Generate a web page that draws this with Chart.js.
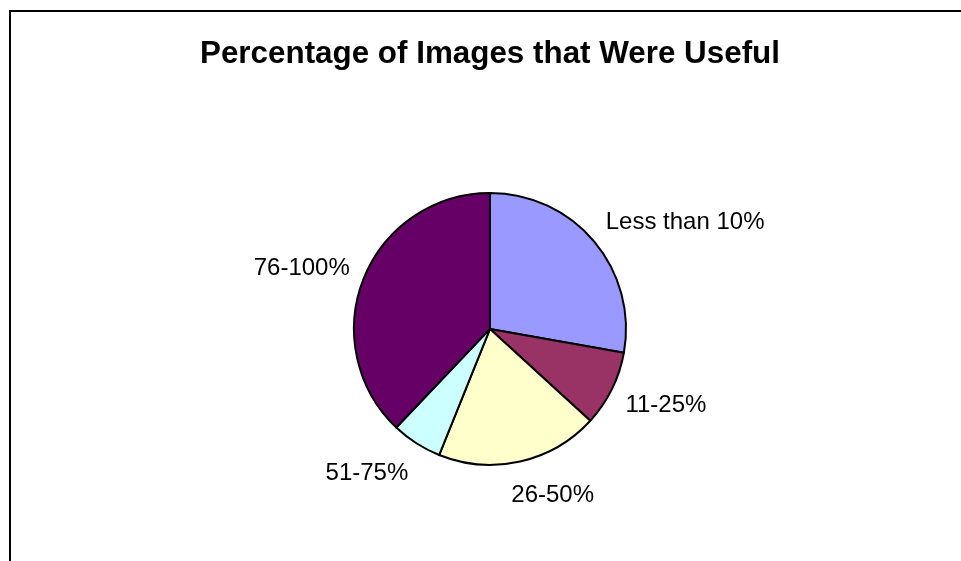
<!DOCTYPE html>
<html>
<head>
<meta charset="utf-8">
<script src="https://cdn.jsdelivr.net/npm/chart.js@4"></script>
<style>
  body { margin: 0; background: #fff; overflow: hidden; }
  #frame {
    position: absolute; left: 9px; top: 10px;
    width: 1000px; height: 600px;
    border-top: 2px solid #000; border-left: 2px solid #000;
  }
  #wrap { position: absolute; left: 0; top: 0; width: 961px; height: 561px; }
</style>
</head>
<body>
<div id="frame"></div>
<div id="wrap"><canvas id="pie"></canvas></div>
<script>
// values (share of responses, %)
const categories = ['Less than 10%', '11-25%', '26-50%', '51-75%', '76-100%'];
const shares = [27.8, 9.0, 19.3, 6.0, 37.9];
const sliceColors = ['#9999FF', '#993366', '#FFFFCC', '#CCFFFF', '#660066'];

const ctx = document.getElementById('pie').getContext('2d');

// draw category names just outside each slice, Excel style
const outsideLabels = {
    id: 'outsideLabels',
    afterDatasetsDraw(chart) {
        const c = chart.ctx;
        const meta = chart.getDatasetMeta(0);
        c.save();
        c.font = '24px "Liberation Sans", Arial, sans-serif';
        c.fillStyle = '#000';
        c.textBaseline = 'middle';
        meta.data.forEach((arc, i) => {
            const p = arc.getProps(['x', 'y', 'startAngle', 'endAngle', 'outerRadius'], true);
            const mid = (p.startAngle + p.endAngle) / 2;
            const r = p.outerRadius + 15;
            const ax = p.x + Math.cos(mid) * r;
            const ay = p.y + Math.sin(mid) * r;
            const s = Math.cos(mid);   // horizontal direction
            const v = Math.sin(mid);   // vertical direction
            const w = c.measureText(categories[i]).width;
            const frac = Math.min(1, Math.max(0, 0.5 - 1.6 * s));
            const left = ax - w * frac;
            const cy = ay + v * 18 + 2;
            c.textAlign = 'left';
            c.fillText(categories[i], left, cy);
        });
        c.restore();
    }
};

new Chart(ctx, {
    type: 'pie',
    data: {
        labels: categories,
        datasets: [{
            data: shares,
            backgroundColor: sliceColors,
            borderColor: '#000',
            borderWidth: 2,
            hoverOffset: 0,
            radius: 136
        }]
    },
    options: {
        responsive: true,
        maintainAspectRatio: false,
        animation: false,
        events: [],
        layout: {
            padding: { left: 200, right: 181, top: 0, bottom: 95 }
        },
        plugins: {
            legend: { display: false },
            tooltip: { enabled: false },
            title: {
                display: true,
                text: 'Percentage of Images that Were Useful',
                color: '#000',
                font: { family: '"Liberation Sans", Arial, sans-serif', size: 31.5, weight: 'bold', lineHeight: 1.2 },
                padding: { top: 35, bottom: 119 }
            }
        }
    },
    plugins: [outsideLabels]
});
</script>
</body>
</html>
